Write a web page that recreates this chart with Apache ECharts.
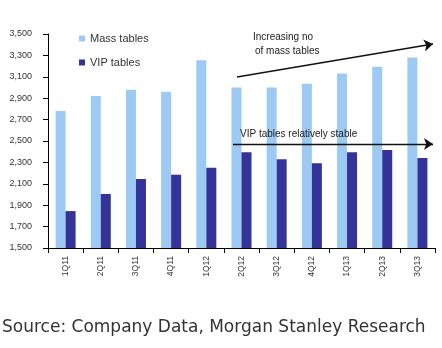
<!DOCTYPE html>
<html>
<head>
<meta charset="utf-8">
<script src="https://cdn.jsdelivr.net/npm/echarts@6/dist/echarts.min.js"></script>
<style>
  html, body { margin: 0; padding: 0; background: #fff; }
  #chart { width: 442px; height: 348px; }
</style>
</head>
<body>
<div id="chart"></div>
<script>
// Quarterly table counts
const quarters = ['1Q11', '2Q11', '3Q11', '4Q11', '1Q12', '2Q12', '3Q12', '4Q12', '1Q13', '2Q13', '3Q13'];
const massTables = [2780, 2920, 2980, 2960, 3255, 3000, 3000, 3035, 3130, 3195, 3280];
const vipTables = [1845, 2005, 2145, 2185, 2250, 2395, 2330, 2292, 2395, 2415, 2340];
const yTicks = [1500, 1700, 1900, 2100, 2300, 2500, 2700, 2900, 3100, 3300, 3500];

const fmt = v => Math.round(v).toString().replace(/\B(?=(\d{3})+(?!\d))/g, ',');

const chart = echarts.init(document.getElementById('chart'), null, { renderer: 'canvas' });
chart.setOption({
  animation: false,
  backgroundColor: '#ffffff',
  grid: { left: 48, right: 7, top: 34, bottom: 100 },
  legend: {
    left: 74, top: 28, orient: 'vertical', itemGap: 13,
    icon: 'rect', itemWidth: 6, itemHeight: 6,
    textStyle: { fontFamily: 'Liberation Sans, Arial', fontSize: 11, color: '#333' },
    data: ['Mass tables', 'VIP tables']
  },
  xAxis: {
    type: 'category',
    data: quarters,
    axisLine: { lineStyle: { color: '#000', width: 1 } },
    axisTick: { show: true, length: 5, lineStyle: { color: '#000' } },
    axisLabel: {
      rotate: 90, margin: 8, color: '#333',
      fontFamily: 'Liberation Sans, Arial', fontSize: 8.5
    }
  },
  yAxis: {
    type: 'value', min: 1500, max: 3500,
    splitLine: { show: false },
    axisLine: { show: true, lineStyle: { color: '#000', width: 1 } },
    axisTick: { show: true, length: 5, customValues: yTicks, lineStyle: { color: '#000' } },
    axisLabel: {
      customValues: yTicks, margin: 16, color: '#333',
      fontFamily: 'Liberation Sans, Arial', fontSize: 9,
      formatter: fmt
    }
  },
  series: [
    {
      name: 'Mass tables', type: 'bar', data: massTables,
      barWidth: 10, barGap: '0%',
      itemStyle: { color: '#9dcaf2' }
    },
    {
      name: 'VIP tables', type: 'bar', data: vipTables,
      barWidth: 10,
      itemStyle: { color: '#333399' },
      // trend arrows drawn on top of the bars
      markLine: {
        silent: true, animation: false, z: 10,
        symbol: ['none', 'arrow'], symbolSize: 9,
        label: { show: false },
        emphasis: { disabled: true },
        lineStyle: { color: '#111', width: 1.3, type: 'solid' },
        data: [
          [{ x: 237, y: 77 }, { x: 433, y: 44 }],
          [{ x: 233, y: 144 }, { x: 433, y: 144 }]
        ]
      }
    }
  ],
  graphic: [
    {
      type: 'text', x: 253, y: 32, z: 100,
      style: { text: 'Increasing no', font: '10px "Liberation Sans", Arial', fill: '#222' }
    },
    {
      type: 'text', x: 255, y: 46, z: 100,
      style: { text: 'of mass tables', font: '10px "Liberation Sans", Arial', fill: '#222' }
    },
    {
      type: 'text', x: 240, y: 129, z: 100,
      style: { text: 'VIP tables relatively stable', font: '10px "Liberation Sans", Arial', fill: '#222' }
    },
    {
      type: 'text', x: 2, y: 319, z: 100,
      style: { text: 'Source: Company Data, Morgan Stanley Research', font: '17px "DejaVu Sans"', fill: '#333' }
    }
  ]
});
</script>
</body>
</html>
